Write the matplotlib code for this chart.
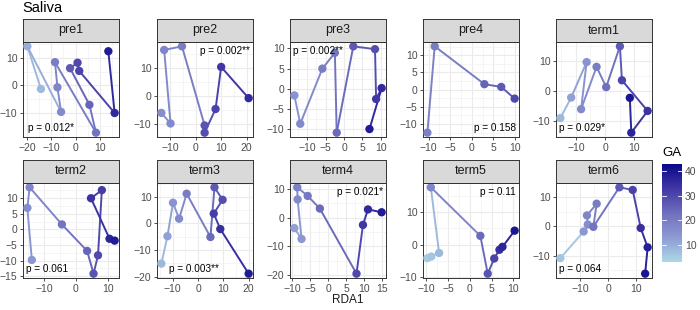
import numpy as np
import matplotlib
matplotlib.use("Agg")
import matplotlib.pyplot as plt
from matplotlib.colors import LinearSegmentedColormap, Normalize
from matplotlib.collections import LineCollection

plt.rcParams['font.family'] = ['Liberation Sans', 'DejaVu Sans']

# data: RDA1 / RDA2 per sample, ordered by gestational age (GA)
panels = ["pre1", "pre2", "pre3", "pre4", "term1",
          "term2", "term3", "term4", "term5", "term6"]

rda1 = {
    "pre1": [-14.3, -19.9, -6.0, -7.5, -8.5, 8.4, 5.7, -2.3, 0.8, 1.5, 16.1, 13.5],
    "pre2": [-13.5, -9.9, -12.4, -5.4, 3.5, 3.5, 7.8, 10.0, 20.8],
    "pre3": [-13.5, -11.9, -5.9, -2.5, -2.0, 2.5, 8.4, 8.7, 10.2, 6.9],
    "pre4": [-10.3, -8.6, 2.9, 6.8, 9.9],
    "term1": [-15.3, -11.6, -6.3, -8.2, -2.9, 0.4, 5.1, 5.8, 14.6, 9.0, 8.5],
    "term2": [-13.8, -15.2, -14.5, -4.4, 3.5, 5.5, 6.9, 8.1, 4.7, 10.5, 12.1],
    "term3": [-14.5, -12.1, -9.9, -7.5, -4.5, 4.9, 6.5, 9.7, 6.2, 8.8, 20.0],
    "term4": [-9.4, -7.4, -8.5, -8.6, -5.7, -2.3, 7.9, 9.7, 11.1, 14.9],
    "term5": [-9.8, -8.9, -7.1, -9.0, 2.4, 4.1, 5.6, 6.8, 7.5, 10.3],
    "term6": [-17.2, -8.8, -7.3, -7.6, -4.1, -5.3, 4.1, 8.9, 11.8, 14.3, 13.4],
}
rda2 = {
    "pre1": [-1.3, 14.3, -9.7, -0.7, 8.5, -17.3, -7.1, 6.3, 8.3, 5.3, -10.1, 12.5],
    "pre2": [-6.0, -9.8, 16.6, 17.9, -10.5, -13.1, -4.6, 10.5, -0.7],
    "pre3": [-1.6, -8.6, 5.0, 8.9, -10.8, 10.5, 9.8, -2.5, 0.2, -9.9],
    "pre4": [-12.5, 12.6, 1.6, 0.8, -2.6],
    "term1": [-9.1, -2.2, 9.7, -6.1, 8.1, 1.3, 15.0, 3.6, -6.7, -14.0, -2.3],
    "term2": [-9.8, 6.9, 13.5, 1.6, -6.9, -14.2, -8.3, 12.6, 10.0, -3.0, -3.6],
    "term3": [-15.1, -4.8, 7.8, 1.8, 11.2, -5.1, 13.6, 8.9, 3.7, -2.1, -18.9],
    "term4": [-3.6, -7.4, 6.4, 10.6, 7.6, 3.2, -19.5, -2.5, 2.9, 1.9],
    "term5": [-4.2, -3.7, -2.6, 17.7, 2.7, -9.0, -4.3, -1.6, -0.7, 4.3],
    "term6": [-10.9, -1.8, 0.6, 3.7, 7.7, -0.2, 13.3, 12.4, -0.6, -7.2, -16.2],
}
ga = {
    "pre1": [8, 10, 17, 18, 20, 22, 25, 27, 30, 31, 36, 39],
    "pre2": [16, 17, 18, 20, 28, 29, 31, 33, 36],
    "pre3": [15, 17, 20, 22, 24, 27, 29, 33, 36, 39],
    "pre4": [19, 20, 25, 27, 30],
    "term1": [8, 12, 15, 17, 20, 23, 27, 31, 34, 37, 40],
    "term2": [14, 16, 18, 22, 25, 28, 30, 32, 34, 37, 39],
    "term3": [8, 12, 15, 17, 20, 24, 27, 29, 32, 35, 39],
    "term4": [12, 14, 17, 19, 21, 24, 30, 33, 36, 39],
    "term5": [5, 6, 8, 18, 24, 28, 31, 35, 37, 40],
    "term6": [6, 14, 16, 18, 20, 22, 27, 31, 35, 38, 40],
}
pvals = {
    "pre1": "p = 0.012*", "pre2": "p = 0.002**", "pre3": "p = 0.002**",
    "pre4": "p = 0.158", "term1": "p = 0.029*", "term2": "p = 0.061",
    "term3": "p = 0.003**", "term4": "p = 0.021*", "term5": "p = 0.11",
    "term6": "p = 0.064",
}
xticks = {
    "pre1": [-20, -10, 0, 10], "pre2": [-10, 0, 10, 20],
    "pre3": [-10, -5, 0, 5, 10], "pre4": [-10, -5, 0, 5, 10],
    "term1": [-10, 0, 10], "term2": [-10, 0, 10], "term3": [-10, 0, 10, 20],
    "term4": [-10, -5, 0, 5, 10, 15], "term5": [-10, -5, 0, 5, 10],
    "term6": [-10, 0, 10],
}
yticks = {
    "pre1": [-10, 0, 10], "pre2": [-10, 0, 10], "pre3": [-10, -5, 0, 5, 10],
    "pre4": [-10, -5, 0, 5, 10], "term1": [-10, 0, 10],
    "term2": [-15, -10, -5, 0, 5, 10], "term3": [-20, -10, 0, 10],
    "term4": [-20, -10, 0, 10], "term5": [-10, 0, 10], "term6": [-10, 0, 10],
}
ga_ticks = [10, 20, 30, 40]

# where the p-value label sits (axes fraction, alignment)
p_pos = {
    "pre1": (0.05, 0.09, "left"), "pre2": (0.97, 0.91, "right"),
    "pre3": (0.03, 0.91, "left"), "pre4": (0.97, 0.09, "right"),
    "term1": (0.03, 0.09, "left"), "term2": (0.03, 0.09, "left"),
    "term3": (0.38, 0.09, "center"), "term4": (0.97, 0.91, "right"),
    "term5": (0.97, 0.91, "right"), "term6": (0.03, 0.09, "left"),
}

cmap = LinearSegmentedColormap.from_list(
    "ga", ["#ADD8E6", "#8E9BD3", "#7070BE", "#4237A5", "#0A0A8A"])
norm = Normalize(vmin=3, vmax=43)

W, H = 700, 310
fig = plt.figure(figsize=(7, 3.1), dpi=100)

lefts = [23, 157, 290, 423, 556]
pw, ph, sh = 96, 95, 23
tops = [42, 183]

grey30 = "#4D4D4D"
grey20 = "#333333"


def minor_from(ticks, lo, hi):
    step = ticks[1] - ticks[0]
    m = [t - step / 2 for t in ticks] + [ticks[-1] + step / 2]
    return [v for v in m if lo <= v <= hi]


for i, name in enumerate(panels):
    r, c = divmod(i, 5)
    left, top = lefts[c], tops[r]
    ax = fig.add_axes([left / W, 1 - (top + ph) / H, pw / W, ph / H])
    x = np.array(rda1[name])
    y = np.array(rda2[name])
    g = np.array(ga[name])

    segs = [[(x[k], y[k]), (x[k + 1], y[k + 1])] for k in range(len(x) - 1)]
    lc = LineCollection(segs, colors=cmap(norm(g[:-1])), linewidths=1.4, zorder=3)
    ax.add_collection(lc)
    ax.scatter(x, y, c=g, cmap=cmap, norm=norm, s=36, linewidths=0, zorder=4)

    xr = x.max() - x.min()
    yr = y.max() - y.min()
    xlim = (x.min() - 0.05 * xr, x.max() + 0.05 * xr)
    ylim = (y.min() - 0.05 * yr, y.max() + 0.05 * yr)
    ax.set_xticks(xticks[name])
    ax.set_yticks(yticks[name])
    ax.set_xticks(minor_from(xticks[name], *xlim), minor=True)
    ax.set_yticks(minor_from(yticks[name], *ylim), minor=True)
    ax.set_xticklabels([f"{t:g}".replace("-", "\u2212") for t in xticks[name]])
    ax.set_yticklabels([f"{t:g}".replace("-", "\u2212") for t in yticks[name]])
    ax.set_xlim(xlim)
    ax.set_ylim(ylim)

    ax.grid(which="major", color="#EBEBEB", linewidth=0.8, zorder=0)
    ax.grid(which="minor", color="#F2F2F2", linewidth=0.5, zorder=0)
    ax.set_axisbelow(True)
    ax.tick_params(which="major", length=2.5, width=0.6, color=grey20,
                   labelsize=7.5, labelcolor=grey30, pad=1.5)
    ax.tick_params(which="minor", length=0)
    for sp in ax.spines.values():
        sp.set_color(grey20)
        sp.set_linewidth(0.7)

    px, py, ha = p_pos[name]
    ax.text(px, py, pvals[name], transform=ax.transAxes, ha=ha, va="center",
            fontsize=7.2, color="black", zorder=5)

    # strip
    sax = fig.add_axes([left / W, 1 - top / H, pw / W, sh / H])
    sax.set_facecolor("#D9D9D9")
    sax.set_xticks([])
    sax.set_yticks([])
    for sp in sax.spines.values():
        sp.set_color(grey20)
        sp.set_linewidth(0.7)
    sax.text(0.5, 0.5, name, ha="center", va="center", fontsize=9,
             color="#1A1A1A", transform=sax.transAxes)

fig.text(22 / W, 1 - 8 / H, "Saliva", fontsize=10.5, ha="left", va="center")
fig.text(348 / W, 1 - 300 / H, "RDA1", fontsize=8.5, ha="center", va="center",
         color="#1A1A1A")

# colour bar
cax = fig.add_axes([662 / W, 1 - 262 / H, 20 / W, 98 / H])
grad = np.linspace(norm.vmin, norm.vmax, 200).reshape(-1, 1)
cax.imshow(grad, aspect="auto", origin="lower", cmap=cmap, norm=norm,
           extent=[0, 1, norm.vmin, norm.vmax])
for t in ga_ticks:
    cax.plot([0, 0.2], [t, t], color="white", lw=0.6)
    cax.plot([0.8, 1], [t, t], color="white", lw=0.6)
cax.set_xlim(0, 1)
cax.set_ylim(norm.vmin, norm.vmax)
cax.set_xticks([])
cax.yaxis.tick_right()
cax.set_yticks(ga_ticks)
cax.tick_params(length=0, labelsize=7.5, labelcolor=grey30, pad=2)
for sp in cax.spines.values():
    sp.set_visible(False)
fig.text(662 / W, 1 - 153 / H, "GA", fontsize=9.5, ha="left", va="center")

fig.savefig("out.png", dpi=100)
